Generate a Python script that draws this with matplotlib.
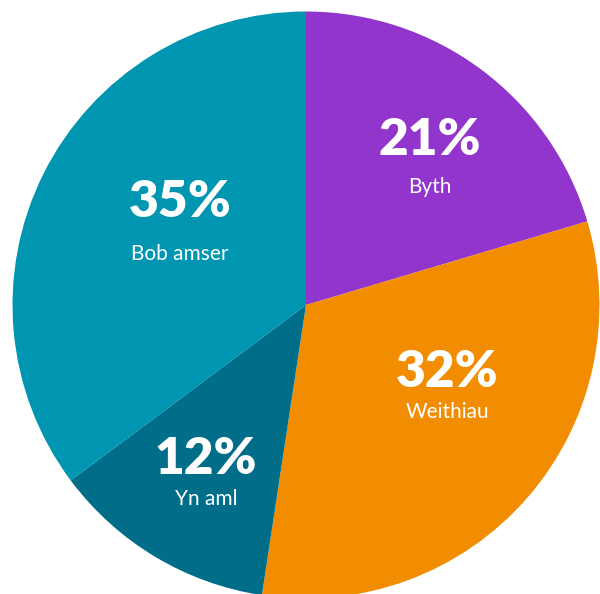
import matplotlib
matplotlib.use("Agg")
import matplotlib.pyplot as plt

categories = ["Byth", "Weithiau", "Yn aml", "Bob amser"]
values = [20.4, 32.0, 12.4, 35.2]
pct_labels = ["21%", "32%", "12%", "35%"]
colors = ["#9135CC", "#F28C00", "#006D89", "#0096B1"]

W, H = 600, 594
fig = plt.figure(figsize=(W / 100, H / 100), dpi=100)
ax = fig.add_axes([0, 0, 1, 1])

cx, cy, r = 306, H - 305, 293.5
ax.pie(values, colors=colors, startangle=90, counterclock=False,
       center=(cx, cy), radius=r, frame=True,
       wedgeprops=dict(linewidth=0))
ax.set_xlim(0, W)
ax.set_ylim(0, H)
ax.set_aspect("equal")
ax.axis("off")

# label anchor positions (pixel coords from top: x, pct baseline, label baseline)
pos = [(430, 155, 193), (447, 387, 418), (206, 474, 505), (180, 217, 260)]
for (x, yp, yl), p, c in zip(pos, pct_labels, categories):
    ax.text(x, H - yp, p, ha="center", va="baseline", color="white",
            fontsize=37, fontweight="heavy", family=["Lato", "DejaVu Sans"])
    ax.text(x, H - yl, c, ha="center", va="baseline", color="white",
            fontsize=15, family=["Lato", "DejaVu Sans"])

fig.savefig("out.png", dpi=100)
